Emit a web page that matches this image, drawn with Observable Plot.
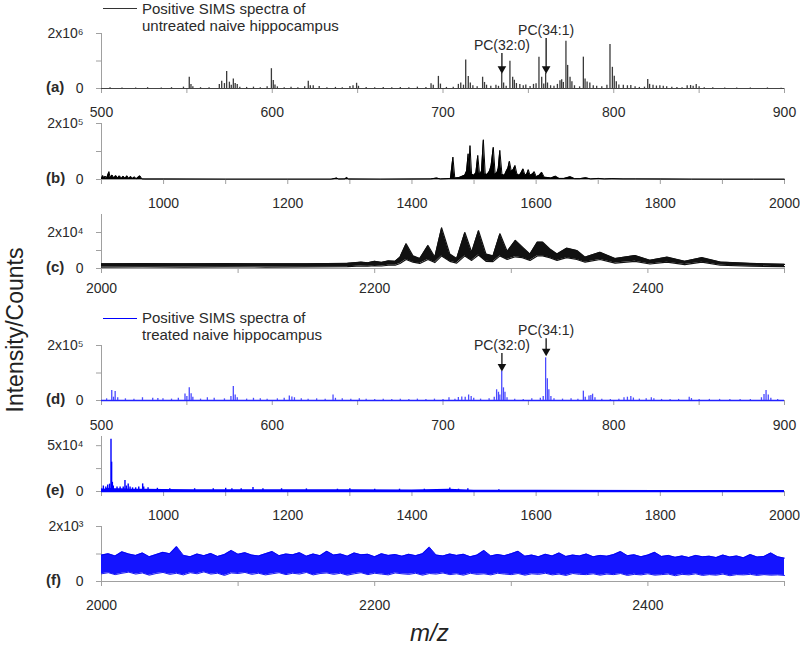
<!DOCTYPE html>
<html><head><meta charset="utf-8">
<script src="https://cdn.jsdelivr.net/npm/d3@7"></script>
<script src="https://cdn.jsdelivr.net/npm/@observablehq/plot@0.6"></script>
<style>
body{margin:0;background:#fff;font-family:Arial,"Liberation Sans",Helvetica,sans-serif;}
#wrap{position:relative;width:800px;height:648px;overflow:hidden;background:#fff;}
#wrap svg{position:absolute;left:0;top:0;}
.t{position:absolute;color:#2a2a2a;white-space:nowrap;}
.leg{font-size:15px;line-height:17px;}
.pl{font-size:15px;font-weight:bold;line-height:18px;}
.ln{position:absolute;height:1.2px;width:34px;}
</style></head><body><div id="wrap"></div>
<script>
// ---------- tick labels ----------
const ticksLow = [500,550,600,650,700,750,800,850,900];
const labelsLow = [500,600,700,800,900];
const ticksMid = [900,1000,1100,1200,1300,1400,1500,1600,1700,1800,1900,2000];
const labelsMid = [1000,1200,1400,1600,1800,2000];
const ticksHigh = [2000,2100,2200,2300,2400,2500];
const labelsHigh = [2000,2200,2400];

// ---------- (a) untreated 500-900: peak m/z and counts ----------
const aMz = [505,512,520,527,535,541,548,551.4,552.4,553.5,558,563,569,570.4,572,573.3,574.9,576,577.2,578.3,579.5,581,585,589,593,597,599.5,600.6,601.6,603,607,611,615,619,621.1,622.3,624,627.5,632,637,641,645.5,647.3,649.4,650.5,655,660,665,670,675,680,685,690,693,694.3,697.3,698.5,702,706,709,710.4,712,713.3,714.8,716,717.5,720,723.2,724.3,725.5,728,731,732.5,734.4,735.5,737,739.2,740.8,741.8,743,745,747,748.5,751,753,754.5,756.2,757.8,759,760.1,761.2,763,765,767,768.5,769.5,770.5,772,773,774.4,775.5,777,780,782.2,783.2,784.4,786,788,790,793,796,797.8,799.2,800.3,801.5,803,805.6,808,810,812.5,815,818,819.9,821,823,825,827,829,831,834,837,840,843,845,846.5,848.3,850,853,858,865,872,880,890,898];
const aH = [3e4,2e4,2e4,3e4,2e4,3e4,5e4,4.1e5,1.5e5,6e4,3e4,3e4,1.5e5,2.65e5,1.8e5,6.2e5,2.3e5,1.2e5,3.5e5,1.8e5,1.5e5,5e4,4e4,5e4,3e4,6e4,7.2e5,2.9e5,1.3e5,6e4,3e4,5e4,3e4,6e4,2.65e5,1e5,1e5,7e4,3e4,4e4,3e4,7e4,1e5,1.9e5,8e4,4e4,3e4,4e4,3e4,4e4,3e4,5e4,4e4,1.7e5,1.2e5,4.4e5,1.6e5,4e4,5e4,1.5e5,2e5,1.2e5,1.04e6,4.4e5,2e5,1e5,6e4,4.1e5,2.2e5,1.2e5,8e4,1.2e5,8e4,5.6e5,2e5,8e4,9.9e5,4.1e5,3e5,1.8e5,1.5e5,1e5,1.3e5,7e4,1.5e5,1.7e5,1.14e6,4.1e5,1.6e5,5.6e5,2e5,1e5,8e4,1.5e5,2.8e5,3.2e5,2.2e5,1.72e6,8.4e5,4.1e5,2.5e5,1e5,6e4,1.14e6,3.5e5,2.4e5,2e5,1e5,8e4,6e4,1.2e5,1.6e6,7.7e5,4.5e5,2.5e5,1.3e5,1.2e5,1e5,1.1e5,6e4,4e4,5e4,3.3e5,1.5e5,1.2e5,9e4,1e5,8e4,6e4,5e4,4e4,3e4,1e5,1.1e5,8e4,1.5e5,6e4,3e4,3e4,2e4,2e4,2e4,2e4,1e4];

// ---------- (b) untreated 900-2000: profile ----------
const bMz = [900,902,904,906,908,910,912,914,917,920,923,926,929,932,935,938,941,944,947,950,953,956,962,965,970,1000,1100,1200,1270,1279,1282,1292,1295,1298,1350,1400,1430,1440,1446,1455,1462,1466,1469,1476,1481,1485,1488,1490.5,1492,1493.5,1496,1500,1503,1506,1509,1512,1515,1518,1521,1525,1527.5,1531,1534,1537,1539,1541.5,1545,1549,1552,1554.5,1557,1560,1563,1566,1569,1573,1576,1579,1582,1585,1587.5,1590,1594,1597,1600,1605,1609,1613,1619,1624,1631,1637,1645,1655,1662,1670,1680,1688,1700,1710,1722,1740,1760,1800,1850,1900,1950,2000];
const bH = [3e3,1.4e4,5e3,1.2e4,4e3,1.5e4,2.8e4,6e3,1.6e4,5e3,1.4e4,5e3,1.3e4,4e3,1.2e4,4e3,1.3e4,4e3,1.1e4,4e3,9e3,3e3,1.3e4,2e3,1.5e3,1.5e3,1.2e3,1.2e3,1.2e3,5e3,1.5e3,2e3,7e3,1.5e3,1.2e3,1.5e3,2e3,5e3,2e3,3e3,4e3,8e4,5e3,7e3,1.2e4,1.5e4,3e4,9.2e4,4e4,1.21e5,2e4,1.5e4,2.5e4,8.6e4,1.5e4,3e4,1.42e5,2e4,1.8e4,3e4,5e4,1.15e5,2e4,2.5e4,4e4,1.04e5,1.8e4,1.5e4,3e4,4e4,6.5e4,3e4,3.5e4,5e4,2e4,1.5e4,2.5e4,3.8e4,1.5e4,2e4,3.5e4,1.5e4,2e4,2.8e4,1e4,1.5e4,2.6e4,8e3,7e3,5e3,1.2e4,4e3,4e3,1e4,3e3,3e3,6e3,2e3,4e3,2e3,3e3,2e3,2e3,1.5e3,1.2e3,1e3,1e3,1e3];

// ---------- (c) untreated 2000-2500: band (upper / lower edge) ----------
const cMz = [2000,2030,2060,2090,2120,2150,2180,2190,2195,2200,2205,2210,2215,2218.5,2223,2228,2233,2239,2244,2249,2255,2260,2266,2271,2276,2281.5,2286.6,2291.7,2297,2303,2308,2313.7,2319,2323,2328,2333.5,2340.5,2348,2354,2365,2376,2390.6,2401.5,2414,2427,2439.5,2453,2475,2500];
const cHi = [2.6e3,2.7e3,2.6e3,2.7e3,2.6e3,2.6e3,2.9e3,3.5e3,3.2e3,4e3,3.4e3,4.2e3,4e3,6.3e3,1.37e4,7e3,5.5e3,1.28e4,6.3e3,2.26e4,8e3,5.5e3,2e4,9e3,2.1e4,8e3,7e3,1.93e4,9.5e3,1.56e4,1.2e4,8e3,1.46e4,1.46e4,1.1e4,8e3,1.13e4,1e4,6.3e3,9e3,5.5e3,7.2e3,4.6e3,6.3e3,4e3,6e3,3.6e3,2.8e3,2.3e3];
const cLo = [0.8e3,0.9e3,0.8e3,0.9e3,0.8e3,0.9e3,1e3,1.4e3,1.3e3,1.6e3,1.4e3,1.8e3,1.8e3,2.8e3,5e3,3.5e3,2.8e3,5e3,3.3e3,7e3,4e3,3e3,7e3,4.5e3,7.5e3,4e3,3.8e3,7e3,5e3,6.5e3,6e3,4.5e3,7e3,7e3,6e3,4.5e3,6e3,5e3,3.5e3,5e3,3e3,4e3,2.5e3,3.5e3,2.2e3,3.5e3,1.8e3,1.3e3,1e3];

// ---------- (d) treated 500-900: peaks ----------
const dMz = [503,506,507,508,509.5,514,519,524,530,533,536,541,545,548.9,550,551.4,552.5,553.5,558,562,566,572,575.8,577.2,578.3,579.5,585,589,593,597,603,607,610,611.5,613,617,621,626,631,635.6,637,641,646,651,655,660,665,670,675,680,685,690,695,700,703.5,707,709,711,713,715,716.5,718,722,727,730,731.4,732.5,733.3,734.4,735.4,736.3,737.5,742,747,752,757,758.7,760.1,761.1,762,763.2,765,770,775,779,782.2,783.3,785.5,786.6,787.6,789,793,798,803,806,808,810,811.5,815,819,822,823.5,828,833,838,844.2,845.5,850,856,862,868,874,880,886.5,888,889.2,890.5,892,896];
const dH = [6e3,3.6e4,1.2e4,3.3e4,1e4,6e3,5e3,1e4,8e3,7e3,6e3,5e3,8e3,2.4e4,1.5e4,4.6e4,2.5e4,1.2e4,5e3,1e4,8e3,6e3,1.5e4,5.1e4,2e4,1e4,5e3,8e3,6e3,5e3,6e3,8e3,1.6e4,1.3e4,1e4,6e3,5e3,6e3,5e3,2e4,8e3,6e3,5e3,6e3,5e3,4e3,5e3,4e3,5e3,4e3,5e3,4e3,5e3,4e3,1e4,5e3,1.1e4,1.3e4,1.2e4,2e4,1.5e4,8e3,5e3,6e3,1.2e4,3.9e4,3e4,2e4,1.07e5,4.6e4,3e4,1e4,5e3,4e3,6e3,8e3,1.5e4,1.55e5,7.9e4,3.9e4,1.5e4,6e3,5e3,6e3,5e3,3.4e4,1.2e4,1.6e4,1.8e4,2.3e4,1e4,5e3,4e3,5e3,1e4,1.2e4,1.5e4,9e3,5e3,6e3,1e4,6e3,4e3,4e3,4e3,1.2e4,7e3,4e3,4e3,4e3,4e3,4e3,4e3,1e4,2.2e4,3.6e4,2e4,8e3,4e3];

// ---------- (e) treated 900-2000: baseline and peaks ----------
const eBaseMz = [900,905,910,920,930,950,970,1000,1050,1100,1150,1200,1300,1400,1460,1500,1600,1800,2000];
const eBaseH = [3e3,2.5e3,3.5e3,3e3,3e3,2.5e3,2.5e3,2.2e3,2e3,2e3,2e3,1.8e3,1.8e3,1.6e3,2.4e3,1.5e3,1.3e3,1.2e3,1.1e3];
const eMz = [903,907,910,913,915.3,916.3,917.5,919,925,930,935,937.8,940,943,946,950,955,960,966.3,968,975,990,1010,1050,1080,1100,1110,1125,1144,1160,1190,1230,1280,1300,1340,1380,1420,1461,1475,1490,1540];
const eH = [6e3,5e3,7e3,8e3,5.7e4,3.2e4,1e4,6e3,5e3,5e3,5e3,1.2e4,6e3,8.3e3,5e3,4e3,4e3,5e3,8.3e3,5e3,4e3,3.5e3,3e3,3e3,3e3,3.5e3,3e3,3e3,4.5e3,3e3,3e3,2.8e3,2.5e3,3e3,2.5e3,2.5e3,2.5e3,3.8e3,2.5e3,3e3,2e3];

// ---------- (f) treated 2000-2500: noise band read every 5 m/z ----------
const fHi = [960,1010,930,1080,1000,950,1040,900,980,1060,1010,1270,950,900,1000,940,1020,910,980,1130,990,1050,960,930,1010,1090,940,1000,970,1050,920,1000,940,1100,960,1000,920,1040,970,990,900,1010,950,980,920,990,940,1010,1250,960,930,1000,950,990,900,960,1130,930,980,940,1010,1100,920,960,900,990,930,1040,910,960,930,1000,900,950,920,980,1090,940,970,900,960,1060,910,950,880,930,870,950,900,920,870,960,890,930,860,980,890,910,1040,900,850];
const fLo = [280,320,250,300,340,270,310,230,290,330,260,300,240,320,280,350,270,300,220,310,290,330,260,300,240,280,320,250,300,270,330,240,290,310,260,300,230,280,320,250,300,270,240,310,280,260,300,230,290,270,310,250,280,230,300,260,280,240,300,270,250,290,230,280,260,300,240,270,220,290,260,250,280,230,270,250,290,220,260,240,280,230,250,270,210,260,240,280,220,250,230,270,210,250,240,260,220,250,230,240,220];

// ---------- annotations ----------
const annLabel = ["PC(32:0)", "PC(34:1)"];
const annMz = [734.5, 760.4];
const annA = {text: [1.56e6, 2.11e6], top: [1.27e6, 1.82e6], tip: [7.2e5, 7.2e5]};
const annD = {text: [2.0e5, 2.55e5], top: [1.71e5, 2.25e5], tip: [1.24e5, 1.79e5]};

// ---------- rendering ----------
const FONT = "Arial, 'Liberation Sans', Helvetica, sans-serif";
const AX = "#a0a0a0", TXT = "#2a2a2a";
const wrap = document.getElementById("wrap");

function panel(cfg, marks) {
  const svg = Plot.plot({
    width: 800, height: 648,
    marginLeft: 101, marginRight: 16, marginTop: cfg.top, marginBottom: 648 - cfg.zero,
    x: {domain: cfg.xd}, y: {domain: cfg.yd},
    style: {background: "transparent", fontFamily: FONT, fontSize: "14px", overflow: "visible"},
    marks: [
      Plot.ruleY([0], {stroke: AX}),
      Plot.ruleX([cfg.xd[0]], {y1: cfg.yd[0], y2: cfg.yd[1], stroke: AX}),
      Plot.axisX({ticks: cfg.xt, tickFormat: d => cfg.xl.includes(d) ? String(d) : "", tickSize: 5, tickPadding: cfg.xpad, stroke: AX, fill: TXT, label: null}),
      Plot.axisY({ticks: cfg.yt, tickFormat: d => cfg.yl[cfg.yt.indexOf(d)], tickSize: 5, tickPadding: 13, stroke: AX, fill: TXT, label: null}),
      ...marks
    ]
  });
  wrap.append(svg);
}

const peaks = (mz, h) => mz.map((m, i) => ({mz: m, h: h[i]}));
function annMarks(a) {
  const rows = annLabel.map((l, i) => ({label: l, mz: annMz[i], ty: a.text[i], top: a.top[i], tip: a.tip[i]}));
  return [
    Plot.text(rows, {x: "mz", y: "ty", text: "label", fill: TXT, fontSize: 14}),
    Plot.ruleX(rows, {x: "mz", y1: "top", y2: "tip", stroke: "#111", strokeWidth: 1.3}),
    Plot.dot(rows, {x: "mz", y: "tip", symbol: "triangle", rotate: 180, r: 3.2, fill: "#111", stroke: null})
  ];
}

// (a)
panel({top: 33, zero: 88, xd: [500, 900], yd: [0, 2e6], xt: ticksLow, xl: labelsLow, xpad: 14,
       yt: [0, 1e6, 2e6], yl: ["0", "", "2x10⁶"]}, [
  Plot.ruleY([0], {stroke: "#444", strokeWidth: 1}),
  Plot.ruleX(peaks(aMz, aH), {x: "mz", y1: 0, y2: "h", stroke: "#3a3a3a", strokeWidth: 1.3}),
  ...annMarks(annA)
]);

// (b)
panel({top: 123, zero: 179, xd: [900, 2000], yd: [0, 2e5], xt: ticksMid, xl: labelsMid, xpad: 14,
       yt: [0, 1e5, 2e5], yl: ["0", "", "2x10⁵"]}, [
  Plot.areaY(peaks(bMz, bH), {x: "mz", y: "h", fill: "#000"}),
  Plot.line(peaks(bMz, bH), {x: "mz", y: "h", stroke: "#000", strokeWidth: 1})
]);

// (c)
const cRows = cMz.map((m, i) => ({mz: m, lo: cLo[i], hi: cHi[i]}));
panel({top: 214, zero: 268, xd: [2000, 2500], yd: [0, 3e4], xt: ticksHigh, xl: labelsHigh, xpad: 10,
       yt: [0, 1e4, 2e4], yl: ["0", "", "2x10⁴"]}, [
  Plot.areaY(cRows, {x: "mz", y1: "lo", y2: "hi", fill: "#111"}),
  Plot.line(cRows, {x: "mz", y: "hi", stroke: "#111", strokeWidth: 1.2}),
  Plot.line(cRows, {x: "mz", y: "lo", stroke: "#111", strokeWidth: 1.2})
]);

// (d)
panel({top: 345, zero: 400, xd: [500, 900], yd: [0, 2e5], xt: ticksLow, xl: labelsLow, xpad: 15,
       yt: [0, 1e5, 2e5], yl: ["0", "", "2x10⁵"]}, [
  Plot.ruleY([0], {stroke: "#2222ff", strokeWidth: 1.4}),
  Plot.ruleX(peaks(dMz, dH), {x: "mz", y1: 0, y2: "h", stroke: "#4a4aff", strokeWidth: 1.3}),
  ...annMarks(annD)
]);

// (e)
panel({top: 436, zero: 491, xd: [900, 2000], yd: [0, 6e4], xt: ticksMid, xl: labelsMid, xpad: 14,
       yt: [0, 2.5e4, 5e4], yl: ["0", "", "5x10⁴"]}, [
  Plot.areaY(peaks(eBaseMz, eBaseH), {x: "mz", y: "h", fill: "#0000ff"}),
  Plot.ruleY([0], {stroke: "#0000ff", strokeWidth: 1.4}),
  Plot.ruleX(peaks(eMz, eH), {x: "mz", y1: 0, y2: "h", stroke: "#0000ff", strokeWidth: 1.4})
]);

// (f)
const fX = d3.range(fHi.length).map(i => 2000 + 5 * i);
const fRows = fX.map((x, i) => ({mz: x, lo: fLo[i], hi: fHi[i]}));
panel({top: 526, zero: 581, xd: [2000, 2500], yd: [0, 2e3], xt: ticksHigh, xl: labelsHigh, xpad: 14,
       yt: [0, 1e3, 2e3], yl: ["0", "", "2x10³"]}, [
  Plot.areaY(fRows, {x: "mz", y1: "lo", y2: "hi", fill: "#1414ff"}),
  Plot.line(fRows, {x: "mz", y: "hi", stroke: "#0000f0", strokeWidth: 0.9}),
  Plot.line(fRows, {x: "mz", y: "lo", stroke: "#0000f0", strokeWidth: 0.9})
]);

// ---------- HTML labels ----------
function addText(html, cls, left, top, extra) {
  const d = document.createElement("div");
  d.className = "t " + cls; d.innerHTML = html;
  d.style.left = left + "px"; d.style.top = top + "px";
  if (extra) Object.assign(d.style, extra);
  wrap.append(d);
  return d;
}
function addLine(left, top, color) {
  const d = document.createElement("div");
  d.className = "ln"; d.style.left = left + "px"; d.style.top = top + "px"; d.style.background = color;
  wrap.append(d);
}
addLine(103, 8, "#333");
addText("Positive SIMS spectra of<br>untreated naive hippocampus", "leg", 142, 0);
addLine(103, 317.5, "#0000ff");
addText("Positive SIMS spectra of<br>treated naive hippocampus", "leg", 142, 309);

const panelNames = ["(a)", "(b)", "(c)", "(d)", "(e)", "(f)"];
const panelZero = [88, 179, 268, 400, 491, 581];
panelNames.forEach((n, i) => addText(n, "pl", 46, panelZero[i] - 10));

addText("Intensity/Counts", "", 15, 330, {fontSize: "23px", transform: "translate(-50%,-50%) rotate(-90deg)", color: "#222"});
addText("m/z", "", 410, 620, {fontSize: "24px", fontStyle: "italic", color: "#222", lineHeight: "26px"});
</script></body></html>
